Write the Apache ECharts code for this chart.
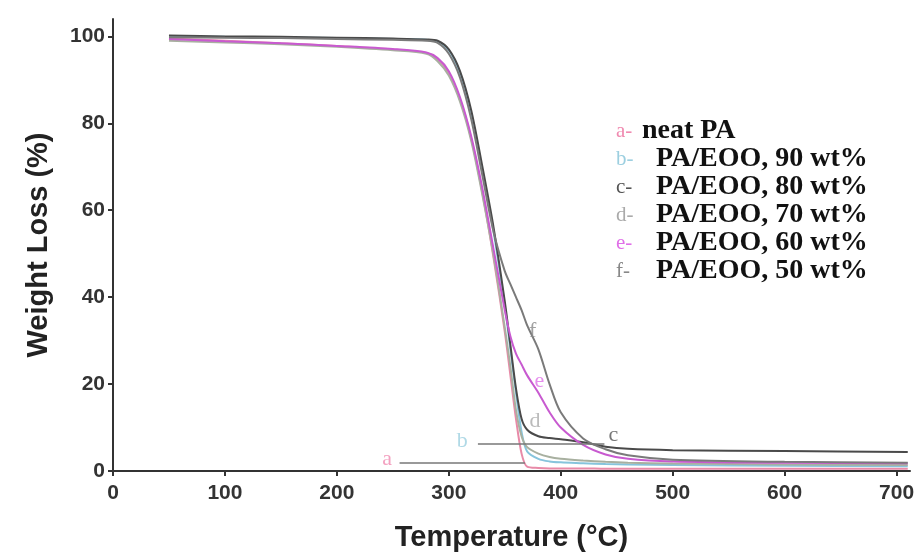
<!DOCTYPE html>
<html>
<head>
<meta charset="utf-8">
<script src="https://cdn.jsdelivr.net/npm/echarts@6/dist/echarts.min.js"></script>
<style>html,body{margin:0;padding:0;background:#fff}#c{width:922px;height:552px}</style>
</head>
<body>
<div id="c"></div>
<script>
// Temperatures (°C) shared by all curves
const temps = [50,100,150,200,250,280,290,300,310,320,330,340,350,355,360,365,370,380,390,400,420,440,460,500,600,710];
// Weight (%) for each sample
const neatPA = [99.5,99.0,98.4,97.8,97.0,96.2,94.8,91.5,85.5,76.5,64,49,32,22,12,4,1.0,0.7,0.6,0.6,0.6,0.5,0.5,0.5,0.5,0.5];
const eoo90  = [100,99.9,99.8,99.6,99.4,99.2,98.8,96.8,91.5,82,69,55,38,28,18,9,4.5,2.8,2.2,2.0,1.8,1.6,1.5,1.4,1.2,1.1];
const eoo80  = [100.2,100,99.9,99.7,99.5,99.3,99.0,97,92,83,70,56,39,29,19,12,9.5,8.0,7.6,7.3,6.6,5.6,5.1,4.8,4.6,4.4];
const eoo70  = [99.0,98.6,98.2,97.6,96.8,96.0,94.3,91,85,76,63.5,49.5,33,24,14,8,5.5,4.0,3.2,2.8,2.4,2.1,1.9,1.7,1.5,1.4];
const eoo60  = [99.4,98.9,98.4,97.8,97.1,96.3,95.0,92,86,77,65,51,37,31,27,24.5,22,18,13.5,10,6,3.8,2.8,2.2,1.9,1.8];
const eoo50  = [99.8,99.7,99.6,99.4,99.2,99.0,98.5,96,90.5,81,68,55,46,43,40,37,33.5,28,20,13.5,7.5,5.0,3.6,2.6,2.1,1.9];

const seriesNames = ['neat PA','PA/EOO, 90 wt%','PA/EOO, 80 wt%','PA/EOO, 70 wt%','PA/EOO, 60 wt%','PA/EOO, 50 wt%'];
const seriesLetters = ['a','b','c','d','e','f'];
const seriesValues = [neatPA, eoo90, eoo80, eoo70, eoo60, eoo50];
const seriesColors = ['#e88aa8','#86c4dc','#4a4a4a','#a8b0a0','#c85ad0','#7a7a7a'];
const letterColors = ['#f08ab0','#9ccfe0','#555555','#aaaaaa','#e070e8','#888888'];

const xTicks = [0,100,200,300,400,500,600,700];
const yTicks = [0,20,40,60,80,100];

// Curve tags: [temperature, weight, letter index]
const tagPos = [[245,2.8,0],[312,6.9,1],[447,8.3,2],[377,11.5,3],[381,20.7,4],[375,32.2,5]];
// Tag leader lines: [[x1,y1],[x2,y2]]
const tagLines = [[[256,1.8],[368,1.8]],[[326,6.2],[439,6.2]]];

const chart = echarts.init(document.getElementById('c'), null, {renderer:'canvas'});

const series = seriesValues.map((vals, i) => ({
  name: seriesNames[i],
  type: 'line',
  data: temps.map((t, k) => [t, vals[k]]),
  smooth: 0.3,
  showSymbol: false,
  lineStyle: {color: seriesColors[i], width: 2},
  itemStyle: {color: seriesColors[i]},
  z: 3
}));

series.push({
  name: 'tags',
  type: 'scatter',
  symbolSize: 0,
  silent: true,
  data: tagPos.map(p => ({
    value: [p[0], p[1]],
    label: {show: true, formatter: seriesLetters[p[2]], color: letterColors[p[2]]}
  })),
  label: {show: true, position: 'inside', fontFamily: 'Liberation Serif', fontSize: 22},
  markLine: {
    silent: true,
    symbol: 'none',
    label: {show: false},
    lineStyle: {color: '#777', width: 1.5, type: 'solid'},
    data: tagLines.map(l => [{coord: l[0]}, {coord: l[1]}])
  },
  z: 4
});

const rich = {t: {fontFamily: 'Liberation Serif', fontWeight: 'bold', fontSize: 28, color: '#111'}};
seriesLetters.forEach((l, i) => {
  rich['p' + l] = {fontFamily: 'Liberation Serif', fontSize: 21, color: letterColors[i], width: i === 0 ? 26 : 40};
});

chart.setOption({
  animation: false,
  backgroundColor: '#fff',
  grid: {left: 113, right: 12, top: 19, bottom: 81, outerBoundsMode: 'none', containLabel: false},
  legend: {
    data: seriesNames,
    orient: 'vertical',
    left: 606,
    top: 112,
    icon: 'none',
    itemWidth: 0,
    itemHeight: 10,
    itemGap: 0,
    selectedMode: false,
    formatter: name => {
      const i = seriesNames.indexOf(name);
      return '{p' + seriesLetters[i] + '|' + seriesLetters[i] + '-}{t|' + name + '}';
    },
    textStyle: {rich: rich}
  },
  xAxis: {
    type: 'value',
    min: 0,
    max: 712,
    interval: 100,
    name: 'Temperature (°C)',
    nameLocation: 'middle',
    nameGap: 52,
    nameTextStyle: {fontFamily: 'Liberation Sans', fontWeight: 'bold', fontSize: 29, color: '#222'},
    axisLine: {lineStyle: {color: '#333', width: 2}},
    axisTick: {show: true, length: 5, lineStyle: {color: '#333', width: 2}, customValues: xTicks},
    axisLabel: {customValues: xTicks, margin: 12, fontFamily: 'Liberation Sans', fontWeight: 'bold', fontSize: 21, color: '#333'},
    splitLine: {show: false}
  },
  yAxis: {
    type: 'value',
    min: 0,
    max: 104,
    interval: 20,
    name: 'Weight Loss (%)',
    nameLocation: 'middle',
    nameGap: 60,
    nameTextStyle: {fontFamily: 'Liberation Sans', fontWeight: 'bold', fontSize: 29, color: '#222'},
    axisLine: {show: true, lineStyle: {color: '#333', width: 2}},
    axisTick: {show: true, length: 5, lineStyle: {color: '#333', width: 2}, customValues: yTicks},
    axisLabel: {customValues: yTicks, margin: 8, fontFamily: 'Liberation Sans', fontWeight: 'bold', fontSize: 21, color: '#333'},
    splitLine: {show: false}
  },
  series: series
});
</script>
</body>
</html>
